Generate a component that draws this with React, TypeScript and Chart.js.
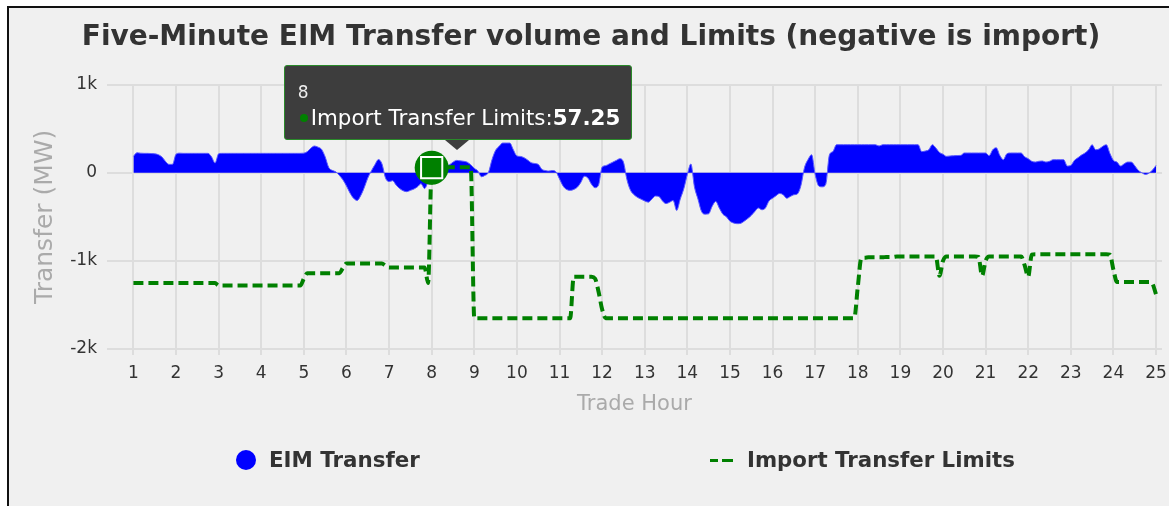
import React, { useEffect, useRef, useState } from "react";
import { Chart, registerables } from "chart.js";

Chart.register(...registerables);

const FONT = "'DejaVu Sans', Verdana, sans-serif";

const TITLE = "Five-Minute EIM Transfer volume and Limits (negative is import)";
const X_TITLE = "Trade Hour";
const Y_TITLE = "Transfer (MW)";
const SERIES_NAMES = ["EIM Transfer", "Import Transfer Limits"];

const HOUR_TICKS = [1, 2, 3, 4, 5, 6, 7, 8, 9, 10, 11, 12, 13, 14, 15, 16, 17, 18, 19, 20, 21, 22, 23, 24, 25];
const Y_TICKS = [-2000, -1000, 0, 1000];
const Y_TICK_LABELS = ["-2k", "-1k", "0", "1k"];

// five-minute intervals starting at hour 1 (12 per hour), last value is hour 25
const eimTransfer = [
  186, 227, 222, 220, 220, 218, 215, 205, 180, 130, 95, 95,
  210, 222, 220, 220, 220, 220, 220, 220, 220, 220, 180, 110,
  215, 220, 220, 220, 220, 220, 220, 220, 220, 220, 220, 220,
  220, 220, 220, 220, 220, 220, 220, 220, 220, 220, 220, 220,
  222, 240, 280, 303, 290, 265, 180, 60, 27, 10, -30, -80,
  -150, -230, -290, -315, -260, -170, -60, 20, 90, 150, 100, -60,
  -100, -90, -140, -180, -205, -215, -200, -185, -160, -125, -180, -100,
  -20, 40, 70, 90, 80, 90, 120, 140, 135, 130, 120, 90,
  50, 20, -45, -30, 5, 150, 254, 300, 337, 337, 337, 260,
  190, 185, 171, 145, 114, 105, 95, 40, 25, 19, 25, 10,
  -70, -150, -190, -200, -190, -165, -110, -40, -60, -130, -170, -140,
  64, 80, 100, 120, 140, 159, 121, -80, -200, -250, -280, -300,
  -320, -334, -300, -265, -270, -320, -350, -335, -315, -428, -300, -182,
  -20, 100, -160, -300, -440, -470, -466, -380, -325, -400, -470, -500,
  -550, -570, -578, -575, -550, -520, -485, -440, -400, -420, -400, -320,
  -290, -260, -235, -250, -290, -270, -250, -240, -144, 60, 150, 205,
  -20, -150, -160, -130, 200, 240, 318, 318, 318, 318, 318, 318,
  318, 318, 318, 318, 318, 318, 303, 318, 318, 318, 318, 318,
  318, 318, 318, 318, 318, 318, 240, 246, 260, 318, 280, 230,
  210, 186, 190, 193, 195, 197, 224, 224, 224, 224, 224, 224,
  224, 193, 260, 284, 197, 148, 216, 224, 224, 224, 224, 180,
  160, 130, 121, 130, 133, 121, 130, 148, 148, 148, 148, 76,
  83, 140, 170, 200, 224, 260, 318, 261, 270, 300, 318, 220,
  140, 121, 76, 100, 121, 121, 80, 27, 0, -19, -5, 30,
  83,
];

const importLimits = [
  -1250, -1250, -1250, -1250, -1250, -1250, -1250, -1250, -1250, -1250, -1250, -1250,
  -1250, -1250, -1250, -1250, -1250, -1250, -1250, -1250, -1250, -1250, -1250, -1250,
  -1280, -1280, -1280, -1280, -1280, -1280, -1280, -1280, -1280, -1280, -1280, -1280,
  -1280, -1280, -1280, -1280, -1280, -1280, -1280, -1280, -1280, -1280, -1280, -1280,
  -1200, -1140, -1140, -1140, -1140, -1140, -1140, -1140, -1140, -1140, -1140, -1080,
  -1030, -1030, -1030, -1030, -1030, -1030, -1030, -1030, -1030, -1030, -1030, -1055,
  -1075, -1075, -1075, -1075, -1075, -1075, -1075, -1075, -1075, -1075, -1075, -1250,
  57.25, 60, 62, 62, 63, 63, 63, 62, 62, 62, 62, 62,
  -1650, -1650, -1650, -1650, -1650, -1650, -1650, -1650, -1650, -1650, -1650, -1650,
  -1650, -1650, -1650, -1650, -1650, -1650, -1650, -1650, -1650, -1650, -1650, -1650,
  -1650, -1650, -1650, -1650, -1180, -1180, -1180, -1180, -1180, -1180, -1200, -1350,
  -1550, -1650, -1650, -1650, -1650, -1650, -1650, -1650, -1650, -1650, -1650, -1650,
  -1650, -1650, -1650, -1650, -1650, -1650, -1650, -1650, -1650, -1650, -1650, -1650,
  -1650, -1650, -1650, -1650, -1650, -1650, -1650, -1650, -1650, -1650, -1650, -1650,
  -1650, -1650, -1650, -1650, -1650, -1650, -1650, -1650, -1650, -1650, -1650, -1650,
  -1650, -1650, -1650, -1650, -1650, -1650, -1650, -1650, -1650, -1650, -1650, -1650,
  -1650, -1650, -1650, -1650, -1650, -1650, -1650, -1650, -1650, -1650, -1650, -1650,
  -1300, -970, -965, -960, -960, -960, -960, -960, -955, -955, -955, -950,
  -950, -950, -950, -950, -950, -950, -950, -950, -950, -950, -950, -1170,
  -1000, -950, -950, -950, -950, -950, -950, -950, -950, -950, -955, -1170,
  -1000, -950, -950, -950, -950, -950, -950, -950, -950, -950, -950, -1050,
  -1180, -930, -925, -925, -925, -925, -925, -925, -925, -925, -925, -925,
  -925, -925, -925, -925, -925, -925, -925, -925, -925, -925, -925, -930,
  -1100, -1240, -1240, -1240, -1240, -1240, -1240, -1240, -1240, -1240, -1240, -1260,
  -1380,
];

const hours = eimTransfer.map((_, i) => 1 + i / 12);
const TOOLTIP_INDEX = 84; // hour 8

export default function App() {
  const canvasRef = useRef<HTMLCanvasElement>(null);
  const [tip, setTip] = useState<{ x: number; y: number } | null>(null);

  useEffect(() => {
    Chart.defaults.font.family = FONT;
    const marker = [{ x: hours[TOOLTIP_INDEX], y: importLimits[TOOLTIP_INDEX] }];
    const chart = new Chart(canvasRef.current as HTMLCanvasElement, {
      type: "line",
      data: {
        datasets: [
          {
            label: SERIES_NAMES[0],
            data: eimTransfer.map((v, i) => ({ x: hours[i], y: v })),
            fill: "origin",
            backgroundColor: "#0000ff",
            borderColor: "#5a5aff",
            borderWidth: 1,
            pointRadius: 0,
            cubicInterpolationMode: "monotone",
            order: 3,
          },
          {
            label: SERIES_NAMES[1],
            data: importLimits.map((v, i) => ({ x: hours[i], y: v })),
            fill: false,
            borderColor: "#008000",
            borderWidth: 4,
            borderDash: [10, 5],
            pointRadius: 0,
            cubicInterpolationMode: "monotone",
            order: 2,
          },
          {
            label: "hover-halo",
            data: marker,
            showLine: false,
            pointRadius: 17,
            pointBackgroundColor: "#008000",
            pointBorderWidth: 0,
            order: 1,
          },
          {
            label: "hover-square",
            data: marker,
            showLine: false,
            pointStyle: "rect",
            pointRadius: 15,
            pointBackgroundColor: "#008000",
            pointBorderColor: "#ffffff",
            pointBorderWidth: 2,
            order: 0,
          },
        ],
      },
      options: {
        responsive: false,
        animation: false,
        events: [],
        layout: { padding: { left: 0, right: 6, top: 0, bottom: 82 } },
        plugins: {
          legend: { display: false },
          tooltip: { enabled: false },
          title: {
            display: true,
            text: TITLE,
            color: "#333333",
            font: { size: 28, weight: "bold", family: FONT },
            padding: { top: 13, bottom: 30 },
          },
        },
        scales: {
          x: {
            type: "linear",
            min: 0.38,
            max: 25.14,
            afterBuildTicks: (s: any) => {
              s.ticks = HOUR_TICKS.map((v) => ({ value: v }));
            },
            afterFit: (s: any) => {
              s.height = 75;
            },
            ticks: {
              color: "#333333",
              font: { size: 17, family: FONT },
              padding: 8,
              maxRotation: 0,
              autoSkip: false,
              callback: (v: any) => String(v),
            },
            grid: { color: "#dddddd", lineWidth: 2, tickLength: 6 },
            border: { display: false },
            title: {
              display: true,
              text: X_TITLE,
              color: "#aaaaaa",
              font: { size: 21, family: FONT },
              padding: { top: 0, bottom: 7 },
            },
          },
          y: {
            type: "linear",
            min: -2000,
            max: 1000,
            afterBuildTicks: (s: any) => {
              s.ticks = Y_TICKS.map((v) => ({ value: v }));
            },
            afterFit: (s: any) => {
              s.width = 98;
            },
            ticks: {
              color: "#333333",
              font: { size: 17, family: FONT },
              padding: 10,
              callback: (v: any) => Y_TICK_LABELS[Y_TICKS.indexOf(Number(v))] ?? String(v),
            },
            grid: { color: "#dddddd", lineWidth: 2, drawTicks: false },
            border: { display: false },
            title: {
              display: true,
              text: Y_TITLE,
              color: "#aaaaaa",
              font: { size: 25, family: FONT },
              padding: { top: 21, bottom: 0 },
            },
          },
        },
      },
    } as any);
    const el: any = chart.getDatasetMeta(1).data[TOOLTIP_INDEX];
    setTip({ x: el.x, y: el.y });
    return () => chart.destroy();
  }, []);

  return (
    <div
      style={{
        position: "fixed",
        left: 7,
        top: 6,
        right: 0,
        height: 498,
        borderTop: "2px solid #111",
        borderLeft: "2px solid #111",
        background: "#f0f0f0",
        fontFamily: FONT,
        overflow: "hidden",
      }}
    >
      <canvas ref={canvasRef} width={1170} height={498} style={{ display: "block", position: "absolute", left: 0, top: 0 }} />
      {tip && (
        <div
          style={{
            position: "absolute",
            left: tip.x - 148,
            top: tip.y - 103,
            width: 348,
            height: 75,
            boxSizing: "border-box",
            background: "#3d3d3d",
            border: "1px solid #2a8a2a",
            borderRadius: 3,
          }}
        >
          <div style={{ position: "absolute", left: 13, top: 16, color: "#eeeeee", fontSize: 17, lineHeight: "20px" }}>
            {hours[TOOLTIP_INDEX]}
          </div>
          <div
            style={{
              position: "absolute",
              left: 15,
              top: 41,
              height: 22,
              display: "flex",
              alignItems: "center",
              color: "#ffffff",
              fontSize: 21.4,
              whiteSpace: "nowrap",
            }}
          >
            <span style={{ width: 8, height: 8, borderRadius: 4, background: "#008000", marginRight: 3, display: "inline-block" }} />
            <span>{SERIES_NAMES[1]}:</span>
            <span style={{ fontWeight: "bold" }}>{importLimits[TOOLTIP_INDEX]}</span>
          </div>
          <div
            style={{
              position: "absolute",
              left: 160,
              top: 74,
              width: 0,
              height: 0,
              borderLeft: "12px solid transparent",
              borderRight: "12px solid transparent",
              borderTop: "10px solid #3d3d3d",
            }}
          />
        </div>
      )}
      <div style={{ position: "absolute", left: 227, top: 442, width: 20, height: 20, borderRadius: 10, background: "#0000ff" }} />
      <div style={{ position: "absolute", left: 260, top: 439, lineHeight: "26px", fontSize: 21.4, fontWeight: "bold", color: "#333333", whiteSpace: "nowrap" }}>
        {SERIES_NAMES[0]}
      </div>
      <div style={{ position: "absolute", left: 701, top: 451, width: 8, height: 3, background: "#008000" }} />
      <div style={{ position: "absolute", left: 713, top: 451, width: 11, height: 3, background: "#008000" }} />
      <div style={{ position: "absolute", left: 738, top: 439, lineHeight: "26px", fontSize: 21.3, fontWeight: "bold", color: "#333333", whiteSpace: "nowrap" }}>
        {SERIES_NAMES[1]}
      </div>
    </div>
  );
}
